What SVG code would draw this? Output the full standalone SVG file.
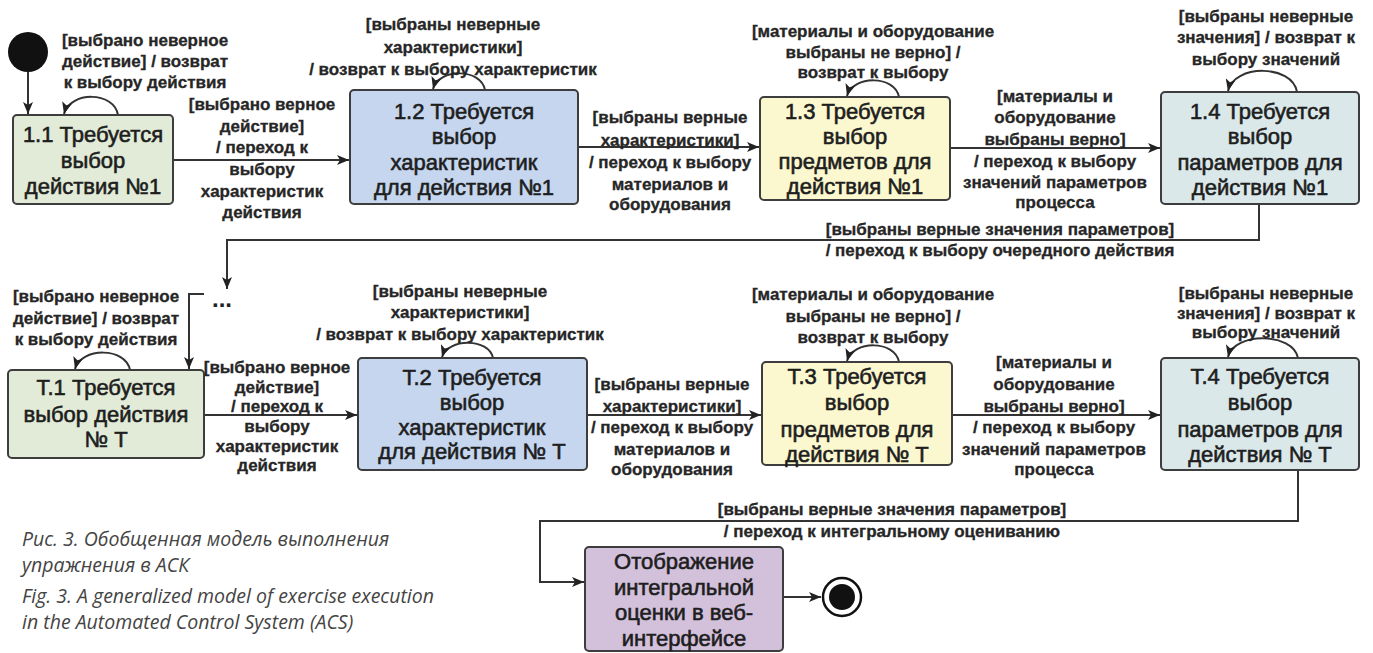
<svg xmlns="http://www.w3.org/2000/svg" width="1373" height="653" viewBox="0 0 1373 653">
<style>
.box{stroke:#3d3d3d;stroke-width:2}
.g{fill:#e2ebd7}.b{fill:#c5d6ee}.y{fill:#fbf7cf}.c{fill:#dae8ea}.p{fill:#d3c1dc}
.bt{font-family:"Liberation Sans",Arial,sans-serif;font-size:22px;font-weight:normal;fill:#1e1e1e;stroke:#1e1e1e;stroke-width:0.6;text-anchor:middle}
.lb{font-family:"Liberation Sans",Arial,sans-serif;font-size:17px;font-weight:bold;fill:#262626;stroke:#262626;stroke-width:0.3;text-anchor:middle}
.cap{font-family:"Open Sans","Noto Sans",sans-serif;font-size:19.5px;font-style:italic;fill:#444}
.cn{fill:none;stroke:#333;stroke-width:2}
</style>
<defs>
<marker id="ah" markerUnits="userSpaceOnUse" markerWidth="13" markerHeight="10" refX="12" refY="5" orient="auto">
<path d="M0,0 L12,5 L0,10 L3,5 z" fill="#222"/>
</marker>
</defs>

<g id="connectors">
<path class="cn" d="M28,72 V114" marker-end="url(#ah)"/>
<path class="cn" d="M118,115 C114,91 70,91 64,114" marker-end="url(#ah)"/>
<path class="cn" d="M173,160 H349" marker-end="url(#ah)"/>
<path class="cn" d="M485,90 C481,68 439,68 433,89" marker-end="url(#ah)"/>
<path class="cn" d="M578,147 H759" marker-end="url(#ah)"/>
<path class="cn" d="M899,97 C895,75 853,75 847,96" marker-end="url(#ah)"/>
<path class="cn" d="M950,148 H1160" marker-end="url(#ah)"/>
<path class="cn" d="M1297,92 C1292,64 1234,64 1228,91" marker-end="url(#ah)"/>
<path class="cn" d="M1259,204 V240 H227 V289" marker-end="url(#ah)"/>
<path class="cn" d="M204,294 H189 V369" marker-end="url(#ah)"/>
<path class="cn" d="M130,370 C126,347 81,347 75,369" marker-end="url(#ah)"/>
<path class="cn" d="M204,415 H357" marker-end="url(#ah)"/>
<path class="cn" d="M493,358 C489,338 448,338 442,357" marker-end="url(#ah)"/>
<path class="cn" d="M587,415 H761" marker-end="url(#ah)"/>
<path class="cn" d="M899,362 C895,340 853,340 847,361" marker-end="url(#ah)"/>
<path class="cn" d="M952,415 H1160" marker-end="url(#ah)"/>
<path class="cn" d="M1298,358 C1293,332 1234,332 1228,357" marker-end="url(#ah)"/>
<path class="cn" d="M1298,470 V521 H540 V582 H584" marker-end="url(#ah)"/>
<path class="cn" d="M783,597 H821" marker-end="url(#ah)"/>
</g>

<g id="start"><circle cx="28" cy="52" r="20" fill="#111"/></g>

<g id="n11">
<rect class="box g" x="13" y="115" width="160" height="89" rx="4"/>
<text class="bt" x="93" y="142">1.1 Требуется</text>
<text class="bt" x="93" y="168">выбор</text>
<text class="bt" x="93" y="194">действия №1</text>
</g>
<g id="n12">
<rect class="box b" x="350" y="90" width="228" height="114" rx="4"/>
<text class="bt" x="464" y="119">1.2 Требуется</text>
<text class="bt" x="464" y="144">выбор</text>
<text class="bt" x="464" y="170">характеристик</text>
<text class="bt" x="464" y="195">для действия №1</text>
</g>
<g id="n13">
<rect class="box y" x="760" y="97" width="190" height="103" rx="4"/>
<text class="bt" x="855" y="119">1.3 Требуется</text>
<text class="bt" x="855" y="144">выбор</text>
<text class="bt" x="855" y="169">предметов для</text>
<text class="bt" x="855" y="194">действия №1</text>
</g>
<g id="n14">
<rect class="box c" x="1161" y="92" width="198" height="112" rx="4"/>
<text class="bt" x="1260" y="119">1.4 Требуется</text>
<text class="bt" x="1260" y="144">выбор</text>
<text class="bt" x="1260" y="170">параметров для</text>
<text class="bt" x="1260" y="195">действия №1</text>
</g>
<g id="dots">
<text x="212" y="307" style="font-family:'Liberation Sans',Arial,sans-serif;font-size:24px;font-weight:bold;fill:#222">...</text>
</g>
<g id="nT1">
<rect class="box g" x="8" y="370" width="196" height="88" rx="4"/>
<text class="bt" x="106" y="395">Т.1 Требуется</text>
<text class="bt" x="106" y="422">выбор действия</text>
<text class="bt" x="106" y="447">№ Т</text>
</g>
<g id="nT2">
<rect class="box b" x="358" y="358" width="229" height="112" rx="4"/>
<text class="bt" x="472" y="385">Т.2 Требуется</text>
<text class="bt" x="472" y="410">выбор</text>
<text class="bt" x="472" y="435">характеристик</text>
<text class="bt" x="472" y="459">для действия № Т</text>
</g>
<g id="nT3">
<rect class="box y" x="762" y="362" width="190" height="103" rx="4"/>
<text class="bt" x="857" y="384">Т.3 Требуется</text>
<text class="bt" x="857" y="410">выбор</text>
<text class="bt" x="857" y="437">предметов для</text>
<text class="bt" x="857" y="462">действия № Т</text>
</g>
<g id="nT4">
<rect class="box c" x="1161" y="358" width="198" height="112" rx="4"/>
<text class="bt" x="1260" y="384">Т.4 Требуется</text>
<text class="bt" x="1260" y="410">выбор</text>
<text class="bt" x="1260" y="437">параметров для</text>
<text class="bt" x="1260" y="462">действия № Т</text>
</g>
<g id="nfinal">
<rect class="box p" x="585" y="547" width="198" height="104" rx="4"/>
<text class="bt" x="684" y="569">Отображение</text>
<text class="bt" x="684" y="595">интегральной</text>
<text class="bt" x="684" y="620">оценки в веб-</text>
<text class="bt" x="684" y="646">интерфейсе</text>
</g>
<g id="end">
<circle cx="842" cy="597" r="19" fill="#fff" stroke="#111" stroke-width="2.5"/>
<circle cx="842" cy="597" r="13" fill="#111"/>
</g>

<g id="labels">
<text class="lb" x="145" y="46">[выбрано неверное</text>
<text class="lb" x="145" y="67">действие] / возврат</text>
<text class="lb" x="145" y="88">к выбору действия</text>

<text class="lb" x="262" y="110">[выбрано верное</text>
<text class="lb" x="262" y="132">действие]</text>
<text class="lb" x="262" y="153">/ переход к</text>
<text class="lb" x="262" y="175">выбору</text>
<text class="lb" x="262" y="197">характеристик</text>
<text class="lb" x="262" y="218">действия</text>

<text class="lb" x="453" y="30">[выбраны неверные</text>
<text class="lb" x="453" y="53">характеристики]</text>
<text class="lb" x="453" y="75">/ возврат к выбору характеристик</text>

<text class="lb" x="670" y="123">[выбраны верные</text>
<text class="lb" x="670" y="146">характеристики]</text>
<text class="lb" x="670" y="168">/ переход к выбору</text>
<text class="lb" x="670" y="190">материалов и</text>
<text class="lb" x="670" y="210">оборудования</text>

<text class="lb" x="873" y="37">[материалы и оборудование</text>
<text class="lb" x="873" y="58">выбраны не верно] /</text>
<text class="lb" x="873" y="78">возврат к выбору</text>

<text class="lb" x="1055" y="102">[материалы и</text>
<text class="lb" x="1055" y="123">оборудование</text>
<text class="lb" x="1055" y="145">выбраны верно]</text>
<text class="lb" x="1055" y="167">/ переход к выбору</text>
<text class="lb" x="1055" y="188">значений параметров</text>
<text class="lb" x="1055" y="208">процесса</text>

<text class="lb" x="1266" y="22">[выбраны неверные</text>
<text class="lb" x="1266" y="43">значения] / возврат к</text>
<text class="lb" x="1266" y="65">выбору значений</text>

<text class="lb" x="1000" y="235">[выбраны верные значения параметров]</text>
<text class="lb" x="1000" y="256">/ переход к выбору очередного действия</text>

<text class="lb" x="96" y="302">[выбрано неверное</text>
<text class="lb" x="96" y="324">действие] / возврат</text>
<text class="lb" x="96" y="345">к выбору действия</text>

<text class="lb" x="277" y="373">[выбрано верное</text>
<text class="lb" x="277" y="393">действие]</text>
<text class="lb" x="277" y="412">/ переход к</text>
<text class="lb" x="277" y="432">выбору</text>
<text class="lb" x="277" y="452">характеристик</text>
<text class="lb" x="277" y="471">действия</text>

<text class="lb" x="460" y="297">[выбраны неверные</text>
<text class="lb" x="460" y="318">характеристики]</text>
<text class="lb" x="460" y="340">/ возврат к выбору характеристик</text>

<text class="lb" x="672" y="390">[выбраны верные</text>
<text class="lb" x="672" y="412">характеристики]</text>
<text class="lb" x="672" y="433">/ переход к выбору</text>
<text class="lb" x="672" y="455">материалов и</text>
<text class="lb" x="672" y="475">оборудования</text>

<text class="lb" x="873" y="300">[материалы и оборудование</text>
<text class="lb" x="873" y="322">выбраны не верно] /</text>
<text class="lb" x="873" y="343">возврат к выбору</text>

<text class="lb" x="1054" y="368">[материалы и</text>
<text class="lb" x="1054" y="390">оборудование</text>
<text class="lb" x="1054" y="412">выбраны верно]</text>
<text class="lb" x="1054" y="433">/ переход к выбору</text>
<text class="lb" x="1054" y="455">значений параметров</text>
<text class="lb" x="1054" y="475">процесса</text>

<text class="lb" x="1266" y="299">[выбраны неверные</text>
<text class="lb" x="1266" y="319">значения] / возврат к</text>
<text class="lb" x="1266" y="338">выбору значений</text>

<text class="lb" x="892" y="515">[выбраны верные значения параметров]</text>
<text class="lb" x="892" y="537">/ переход к интегральному оцениванию</text>
</g>

<g id="caption">
<text class="cap" x="22" y="546">Рис. 3. Обобщенная модель выполнения</text>
<text class="cap" x="22" y="572">упражнения в АСК</text>
<text class="cap" x="22" y="603">Fig. 3. A generalized model of exercise execution</text>
<text class="cap" x="22" y="629">in the Automated Control System (ACS)</text>
</g>
</svg>
